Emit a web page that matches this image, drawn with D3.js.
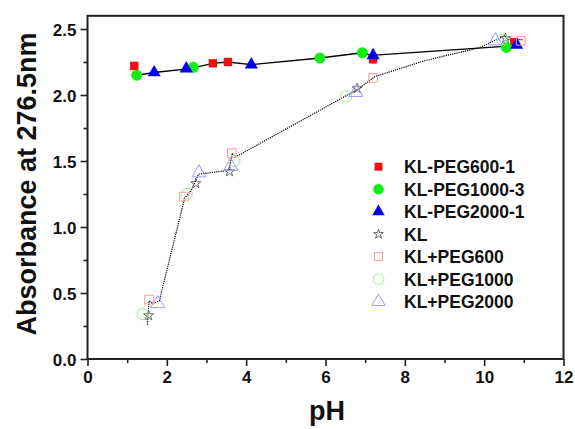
<!DOCTYPE html>
<html><head><meta charset="utf-8">
<script src="https://cdn.jsdelivr.net/npm/d3@7"></script>
<style>body{margin:0;background:#fff}svg{display:block}text{font-family:"Liberation Sans",Arial,sans-serif;font-weight:bold;fill:#111}</style>
</head><body><svg id="c" width="575" height="429"></svg>
<script>
// ---- data ----
const xTicks = [0,2,4,6,8,10,12];
const yTicks = [0.0,0.5,1.0,1.5,2.0,2.5];
const seriesNames = ["KL-PEG600-1","KL-PEG1000-3","KL-PEG2000-1","KL","KL+PEG600","KL+PEG1000","KL+PEG2000"];
const klPeg600_1  = [[1.18,2.22],[3.16,2.24],[3.54,2.25],[7.20,2.27],[10.76,2.40]];
const klPeg1000_3 = [[1.24,2.15],[2.67,2.21],[5.86,2.28],[6.93,2.32],[10.56,2.36]];
const klPeg2000_1 = [[1.68,2.17],[2.49,2.20],[4.13,2.23],[7.20,2.30],[10.82,2.38]];
const kl          = [[1.54,0.33],[2.73,1.33],[3.58,1.42],[6.80,2.05],[10.54,2.43]];
const klPlus600   = [[1.55,0.45],[2.43,1.23],[3.64,1.56],[7.20,2.13],[10.92,2.41]];
const klPlus1000  = [[1.39,0.34],[2.50,1.25],[3.70,1.50],[6.52,1.99],[10.46,2.42]];
const klPlus2000  = [[1.77,0.42],[2.81,1.41],[3.61,1.46],[6.77,2.02],[10.28,2.41]];
// mean trend lines drawn in the figure
const solidTrend  = [[1.24,2.15],[1.68,2.17],[2.58,2.20],[3.16,2.24],[3.54,2.25],[4.13,2.23],[5.86,2.28],[6.93,2.32],[7.15,2.30],[10.60,2.37],[10.90,2.38]];
const dottedTrend = [[1.51,0.26],[1.55,0.44],[1.66,0.42],[1.81,0.44],[2.45,1.22],[2.62,1.28],[2.80,1.40],[3.57,1.43],[3.65,1.56],[3.73,1.53],[6.55,2.00],[6.80,2.04],[7.25,2.14],[8.5,2.26],[9.9,2.36],[10.52,2.45],[10.60,2.42],[10.97,2.42]];

// ---- layout ----
const svg = d3.select("#c");
const x = d3.scaleLinear().domain([0,12]).range([87.5,563.5]);
const y = d3.scaleLinear().domain([0,2.6]).range([359,15.8]);
const axisColor = "#222";

// minor ticks
const gx = svg.append("g").attr("transform",`translate(0,${y(0)})`);
gx.call(d3.axisBottom(x).tickValues(d3.range(1,12,2)).tickSize(4).tickFormat(""));
const gy = svg.append("g").attr("transform",`translate(${x(0)},0)`);
gy.call(d3.axisLeft(y).tickValues(d3.range(0.25,2.6,0.5)).tickSize(4).tickFormat(""));
// major ticks
const gx2 = svg.append("g").attr("transform",`translate(0,${y(0)})`)
  .call(d3.axisBottom(x).tickValues(xTicks).tickSize(7).tickPadding(5).tickFormat(d3.format("d")));
const gy2 = svg.append("g").attr("transform",`translate(${x(0)},0)`)
  .call(d3.axisLeft(y).tickValues(yTicks).tickSize(7).tickPadding(4).tickFormat(d3.format(".1f")));
svg.selectAll(".domain").remove();
svg.selectAll(".tick line").attr("stroke",axisColor).attr("stroke-width",1.6);
svg.selectAll(".tick text").style("font-size","17px").style("font-family",'"Liberation Sans",Arial,sans-serif').style("font-weight","bold").attr("fill","#111");
gy2.selectAll(".tick text").attr("dy","0.36em");

// frame
svg.append("rect").attr("x",x(0)).attr("y",y(2.6)).attr("width",x(12)-x(0)).attr("height",y(0)-y(2.6))
  .attr("fill","none").attr("stroke",axisColor).attr("stroke-width",2);

// lines
const line = d3.line().x(d=>x(d[0])).y(d=>y(d[1]));
svg.append("path").datum(solidTrend).attr("d",line).attr("fill","none").attr("stroke","#000").attr("stroke-width",1.4);
svg.append("path").datum(dottedTrend).attr("d",line).attr("fill","none").attr("stroke","#000").attr("stroke-width",1.2).attr("stroke-dasharray","1.2,1");

// markers
const styles = [
  {data:klPeg600_1, type:d3.symbolSquare, size:70, fill:"#ee1111", stroke:"none"},
  {data:klPeg1000_3, type:d3.symbolCircle, size:95, fill:"#11ee11", stroke:"none"},
  {data:klPeg2000_1, type:d3.symbolTriangle, size:75, fill:"#0000ee", stroke:"none"},
  {data:kl, type:d3.symbolStar, size:32, fill:"none", stroke:"#666"},
  {data:klPlus600, type:d3.symbolSquare, size:75, fill:"none", stroke:"#ff9999"},
  {data:klPlus1000, type:d3.symbolCircle, size:100, fill:"none", stroke:"#99ee99"},
  {data:klPlus2000, type:d3.symbolTriangle, size:85, fill:"none", stroke:"#9999ff"}
];
styles.forEach(s=>{
  svg.append("g").selectAll("path").data(s.data).join("path")
    .attr("transform",d=>`translate(${x(d[0])},${y(d[1])})`)
    .attr("d",d3.symbol().type(s.type).size(s.size))
    .attr("fill",s.fill).attr("stroke",s.stroke).attr("stroke-width",1);
});

// legend
const lg = svg.append("g");
seriesNames.forEach((n,i)=>{
  const s = styles[i], ly = 166.7 + i*22.5;
  lg.append("path").attr("transform",`translate(378.5,${ly})`)
    .attr("d",d3.symbol().type(s.type).size(s.size*0.9))
    .attr("fill",s.fill).attr("stroke",s.stroke).attr("stroke-width",1);
  lg.append("text").attr("x",404).attr("y",ly).attr("dy","0.36em").style("font-size","17.5px").text(n);
});

// axis titles
svg.append("text").attr("x",327).attr("y",420).attr("text-anchor","middle").style("font-size","27px").text("pH");
svg.append("text").attr("transform",`translate(36,${184}) rotate(-90)`).attr("text-anchor","middle").style("font-size","27px").text("Absorbance at 276.5nm");
</script></body></html>
